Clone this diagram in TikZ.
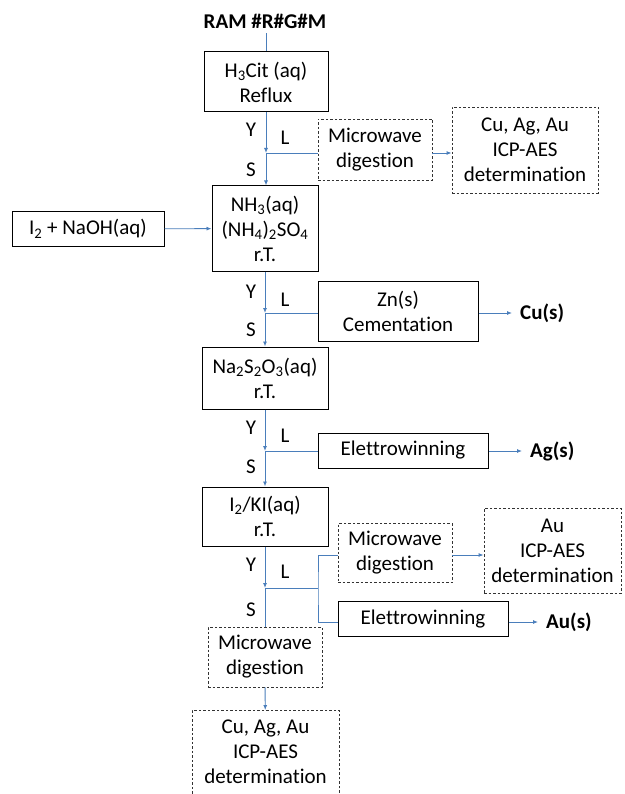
\documentclass[tikz,border=0pt]{standalone}
\usepackage{fontspec}
\setmainfont{Carlito}[Ligatures=NoCommon]
\usetikzlibrary{arrows.meta}
\definecolor{conn}{RGB}{74,126,187}
\begin{document}
\begin{tikzpicture}[x=1pt,y=-1pt,
  every node/.style={font=\fontsize{21}{25}\selectfont, align=center},
  box/.style={draw=black, line width=1pt, inner sep=0pt},
  dbox/.style={draw=black!80, line width=0.9pt, dash pattern=on 2.5pt off 2pt, inner sep=0pt},
  lbl/.style={inner sep=0pt},
  prod/.style={font=\fontsize{21}{25}\selectfont\bfseries, inner xsep=8pt, inner ysep=0pt, anchor=west},
  ln/.style={draw=conn, line width=0.9pt},
  arr/.style={ln, -{Latex[length=5pt,width=4pt]}}
]
\clip (0,0) rectangle (624,794);
\fill[white] (0,0) rectangle (624,794);

% title
\node[font=\fontsize{21}{25}\selectfont\bfseries, inner sep=0pt, minimum height=24pt] (title) at (265,21) {RAM \#R\#G\#M};

% main column boxes
\node[box, minimum width=124pt, minimum height=60pt] (b1) at (266,82) {H\textsubscript{3}Cit (aq)\\Reflux};
\node[box, minimum width=106pt, minimum height=85pt] (b2) at (265,228.5) {NH\textsubscript{3}(aq)\\(NH\textsubscript{4})\textsubscript{2}SO\textsubscript{4}\\r.T.};
\node[box, minimum width=126pt, minimum height=62pt] (b3) at (265,378) {Na\textsubscript{2}S\textsubscript{2}O\textsubscript{3}(aq)\\r.T.};
\node[box, minimum width=126pt, minimum height=59pt] (b4) at (265,516.5) {I\textsubscript{2}/KI(aq)\\r.T.};
\node[dbox, minimum width=114pt, minimum height=60pt] (m3) at (265,657) {Microwave\\digestion};
\node[dbox, minimum width=147pt, minimum height=120pt, anchor=north] (icp3) at (265.5,710) {};
\node[lbl] (icp3t) at (265.5,752) {Cu, Ag, Au\\ICP-AES\\determination};

% side boxes
\node[box, minimum width=152pt, minimum height=34pt] (naoh) at (88,229) {I\textsubscript{2} + NaOH(aq)};
\node[dbox, minimum width=114pt, minimum height=61pt] (m1) at (375,149.5) {Microwave\\digestion};
\node[dbox, minimum width=146pt, minimum height=86pt] (icp1) at (525,150) {Cu, Ag, Au\\ICP-AES\\determination};
\node[box, minimum width=160pt, minimum height=60pt] (zn) at (398,311) {Zn(s)\\Cementation};
\node[box, minimum width=170pt, minimum height=35pt] (e1) at (403,450.5) {Elettrowinning};
\node[dbox, minimum width=114pt, minimum height=59pt] (m2) at (395,553) {Microwave\\digestion};
\node[dbox, minimum width=137pt, minimum height=85pt] (icp2) at (552.5,550.5) {Au\\ICP-AES\\determination};
\node[box, minimum width=170pt, minimum height=35pt] (e2) at (423,619) {Elettrowinning};

% products
\node[prod] (cu) at (512,313) {Cu(s)};
\node[prod] (ag) at (522,451) {Ag(s)};
\node[prod] (au) at (538,622) {Au(s)};

% junctions
\coordinate (j1) at (266,153);
\coordinate (j2) at (265,313);
\coordinate (j3) at (265,451);
\coordinate (j4) at (265,588);
\coordinate (k4) at (318,588);

% labels Y / L / S
\foreach \n/\yy/\ll/\ss in {1/130/138/170, 2/292/300/330, 3/428/436/467, 4/565/572/610}{
  \node[lbl] (y\n) at (251,\yy) {Y};
  \node[lbl] (l\n) at (285,\ll) {L};
  \node[lbl] (s\n) at (251,\ss) {S};
}

% connectors
\draw[ln] (b1.north |- title.south) -- (b1.north);
\draw[arr] (b1) -- (j1);
\draw[arr] (j1) -- (b1.south |- b2.north);
\draw[ln] (m1.west |- j1) -- (j1);
\draw[arr] (m1.east |- j1) -- (icp1.west |- j1);
\draw[arr] (naoh) -- (b2);

\draw[arr] (b2) -- (j2);
\draw[arr] (j2) -- (b3);
\draw[ln] (zn.west |- j2) -- (j2);
\draw[arr] (zn.east |- cu) -- (cu);

\draw[arr] (b3) -- (j3);
\draw[arr] (j3) -- (b4);
\draw[ln] (e1.west |- j3) -- (j3);
\draw[arr] (e1.east |- ag) -- (ag);

\draw[arr] (b4) -- (j4);
\draw[ln] (j4) -- (k4);
\draw[ln] (m2.west |- 0,555) -| (k4) |- (e2.west |- au);
\draw[arr] (m2.east |- 0,555) -- (icp2.west |- 0,555);
\draw[arr] (e2.east |- au) -- (au);
\draw[ln] (j4) -- (m3);
\draw[arr] (m3) -- (icp3);
\end{tikzpicture}
\end{document}
